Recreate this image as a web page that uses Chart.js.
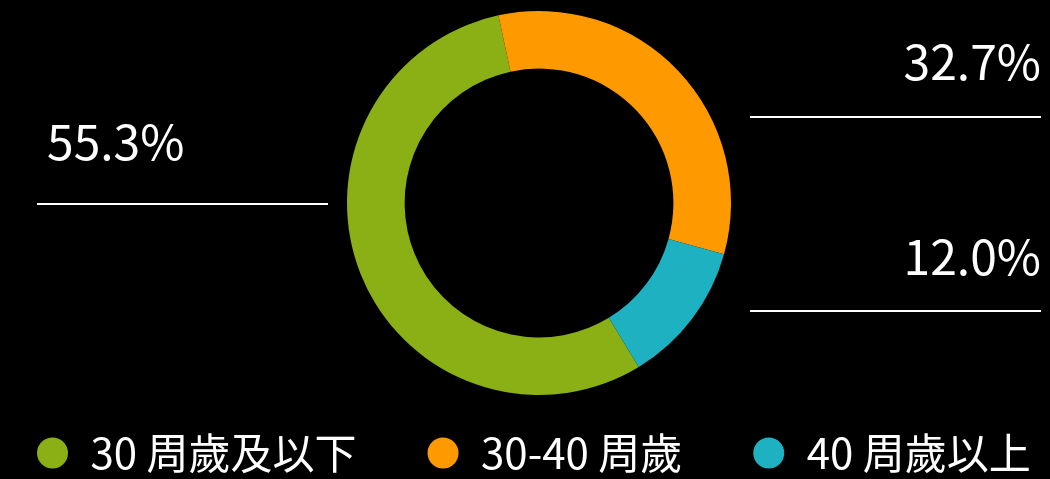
<!DOCTYPE html>
<html lang="zh-Hant">
<head>
    <meta charset="UTF-8">
    <title>年齡分佈</title>
    <script src="https://cdn.jsdelivr.net/npm/chart.js"></script>
    <style>
        html, body {
            margin: 0;
            padding: 0;
            background: #000;
        }

        .chart-box {
            position: relative;
            width: 1050px;
            height: 479px;
        }
    </style>
</head>
<body>
<div class="chart-box">
    <canvas id="age-chart"></canvas>
</div>

<script>
    const ageLabels = ['30 周歲及以下', '30-40 周歲', '40 周歲以上'];
    const shareValues = [55.3, 32.7, 12.0];
    const sliceColors = ['#8bb016', '#ff9900', '#1db1c2'];

    const fontFamily = '"Noto Sans CJK TC", "Noto Sans", sans-serif';

    // where each percentage callout sits: which side, y of its underline, text lift
    const calloutLayout = [
        {side: 'left', lineY: 204, lift: 44},
        {side: 'right', lineY: 117, lift: 37},
        {side: 'right', lineY: 311, lift: 36}
    ];

    const calloutPlugin = {
        id: 'callouts',
        afterDatasetsDraw(chart) {
            const ctx = chart.ctx;
            const values = chart.data.datasets[0].data;
            const total = values.reduce((a, b) => a + b, 0);
            ctx.save();
            ctx.strokeStyle = '#fff';
            ctx.fillStyle = '#fff';
            ctx.lineWidth = 2;
            ctx.font = '400 48px ' + fontFamily;
            ctx.textBaseline = 'alphabetic';
            values.forEach((v, i) => {
                const c = calloutLayout[i];
                const left = c.side === 'left';
                const x0 = left ? 37 : 750;
                const x1 = left ? 328 : 1041;
                ctx.beginPath();
                ctx.moveTo(x0, c.lineY);
                ctx.lineTo(x1, c.lineY);
                ctx.stroke();
                ctx.textAlign = left ? 'left' : 'right';
                ctx.fillText((v / total * 100).toFixed(1) + '%', left ? 47 : 1041, c.lineY - c.lift);
            });
            ctx.restore();
        }
    };

    const legendPlugin = {
        id: 'bottomLegend',
        afterDraw(chart) {
            const ctx = chart.ctx;
            const colors = chart.data.datasets[0].backgroundColor;
            const y = 453;
            const r = 15.5;
            const gap = 71;
            let x = 37;
            ctx.save();
            ctx.font = '42px ' + fontFamily;
            ctx.textBaseline = 'middle';
            ctx.textAlign = 'left';
            chart.data.labels.forEach((label, i) => {
                ctx.fillStyle = colors[i];
                ctx.beginPath();
                ctx.arc(x + r, y, r, 0, Math.PI * 2);
                ctx.fill();
                ctx.fillStyle = '#fff';
                ctx.fillText(label, x + r + 38, y);
                x += r + 38 + ctx.measureText(label).width + gap;
            });
            ctx.restore();
        }
    };

    new Chart(document.getElementById('age-chart'), {
        type: 'doughnut',
        data: {
            labels: ageLabels,
            datasets: [{
                data: shareValues,
                backgroundColor: sliceColors,
                borderWidth: 0
            }]
        },
        options: {
            responsive: true,
            maintainAspectRatio: false,
            animation: false,
            cutout: '70%',
            rotation: 148.7,
            layout: {padding: {top: 11, bottom: 84, left: 28, right: 0}},
            plugins: {
                legend: {display: false},
                tooltip: {enabled: false}
            }
        },
        plugins: [calloutPlugin, legendPlugin]
    });
</script>
</body>
</html>
